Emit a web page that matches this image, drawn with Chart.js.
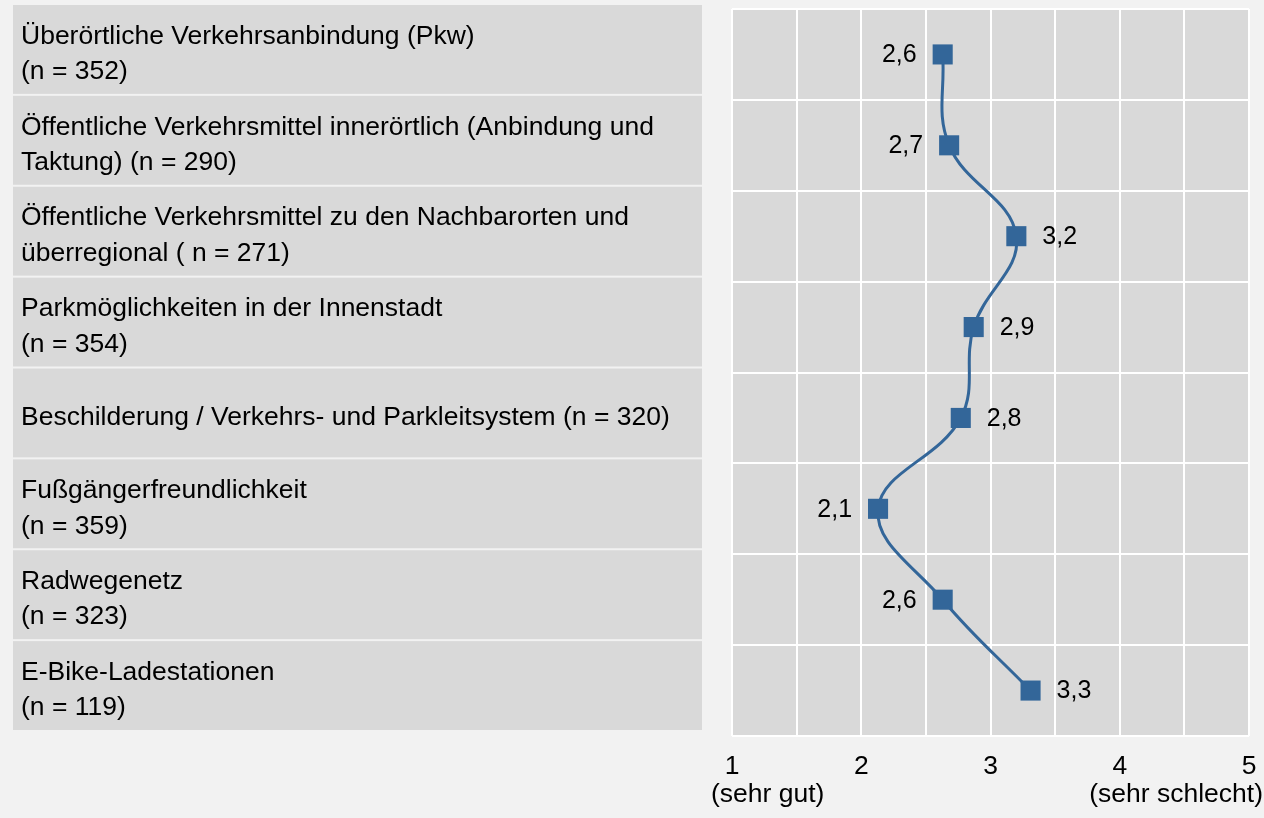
<!DOCTYPE html>
<html>
<head>
<meta charset="utf-8">
<script src="https://cdn.jsdelivr.net/npm/chart.js@4.4.1/dist/chart.umd.min.js"></script>
<style>
  html, body { margin: 0; padding: 0; background: #f2f2f2; }
  #wrap { width: 1264px; height: 818px; position: relative; }
</style>
</head>
<body>
<div id="wrap"><canvas id="c" width="1264" height="818"></canvas></div>
<script>
// categories (one entry per row, already split into lines)
const categories = [
  ['Überörtliche Verkehrsanbindung (Pkw)', '(n = 352)'],
  ['Öffentliche Verkehrsmittel innerörtlich (Anbindung und', 'Taktung) (n = 290)'],
  ['Öffentliche Verkehrsmittel zu den Nachbarorten und', 'überregional ( n = 271)'],
  ['Parkmöglichkeiten in der Innenstadt', '(n = 354)'],
  ['Beschilderung / Verkehrs- und Parkleitsystem (n = 320)'],
  ['Fußgängerfreundlichkeit', '(n = 359)'],
  ['Radwegenetz', '(n = 323)'],
  ['E-Bike-Ladestationen', '(n = 119)']
];
// mean scores (1 = sehr gut ... 5 = sehr schlecht)
const meanScores = [2.63, 2.68, 3.2, 2.87, 2.77, 2.13, 2.63, 3.31];
const xTicks = [1, 2, 3, 4, 5];
const xTickNotes = { 1: '(sehr gut)', 5: '(sehr schlecht)' };
const labelSide = ['left', 'left', 'right', 'right', 'right', 'left', 'left', 'right'];

const BLUE = '#336699';
const FONT = '"Liberation Sans", Arial, sans-serif';
const STRETCH = 1.06; // the source text runs a bit wider than Arial

// draw text slightly stretched horizontally, anchored at x
function wideText(ctx, txt, x, y, align) {
  ctx.save();
  ctx.translate(x, y);
  ctx.scale(STRETCH, 1);
  ctx.textAlign = align;
  ctx.fillText(txt, 0, 0);
  ctx.restore();
}

// backgrounds + label boxes on the left
const backdrop = {
  id: 'backdrop',
  beforeDraw(chart) {
    const { ctx, chartArea: a, scales: { y } } = chart;
    ctx.save();
    ctx.fillStyle = '#f2f2f2';
    ctx.fillRect(0, 0, chart.width, chart.height);
    ctx.fillStyle = '#d9d9d9';
    ctx.fillRect(a.left, a.top, a.right - a.left, a.bottom - a.top);

    const half = (y.getPixelForValue(1) - y.getPixelForValue(0)) / 2;
    ctx.font = '25px ' + FONT;
    ctx.textBaseline = 'alphabetic';
    categories.forEach((lines, i) => {
      const cy = y.getPixelForValue(i);
      const top = cy - half - 4, bottom = cy + half - 6;
      ctx.fillStyle = '#d9d9d9';
      ctx.fillRect(13, top, 689, bottom - top);
      const mid = (top + bottom) / 2;
      ctx.fillStyle = '#000';
      lines.forEach((t, k) => {
        wideText(ctx, t, 21, mid + 12 + (k - (lines.length - 1) / 2) * 35.5, 'left');
      });
    });
    ctx.restore();
  }
};

// value labels next to the markers
const valueLabels = {
  id: 'valueLabels',
  afterDatasetsDraw(chart) {
    const { ctx } = chart;
    const meta = chart.getDatasetMeta(0);
    ctx.save();
    ctx.font = '25px ' + FONT;
    ctx.fillStyle = '#000';
    ctx.textBaseline = 'middle';
    meta.data.forEach((pt, i) => {
      const txt = meanScores[i].toFixed(1).replace('.', ',');
      if (labelSide[i] === 'left') {
        ctx.textAlign = 'right';
        ctx.fillText(txt, pt.x - 26, pt.y + 1);
      } else {
        ctx.textAlign = 'left';
        ctx.fillText(txt, pt.x + 26, pt.y + 1);
      }
    });
    ctx.restore();
  }
};

// x tick labels with notes under 1 and 5
const xLabels = {
  id: 'xLabels',
  afterDraw(chart) {
    const { ctx, scales: { x } } = chart;
    ctx.save();
    ctx.font = '25px ' + FONT;
    ctx.fillStyle = '#000';
    ctx.textBaseline = 'middle';
    xTicks.forEach(v => {
      const px = x.getPixelForValue(v);
      wideText(ctx, String(v), px, 767, 'center');
      if (xTickNotes[v]) {
        if (v === xTicks[0]) {
          wideText(ctx, xTickNotes[v], px - 21, 795, 'left');
        } else {
          wideText(ctx, xTickNotes[v], px + 14, 795, 'right');
        }
      }
    });
    ctx.restore();
  }
};

new Chart(document.getElementById('c'), {
  type: 'line',
  data: {
    labels: categories.map(c => c.join(' ')),
    datasets: [{
      data: meanScores,
      borderColor: BLUE,
      backgroundColor: BLUE,
      borderWidth: 3,
      tension: 0.4,
      pointStyle: 'rect',
      pointRadius: 14.2,
      pointBorderWidth: 0,
      pointBackgroundColor: BLUE,
      clip: false
    }]
  },
  options: {
    indexAxis: 'y',
    responsive: false,
    animation: false,
    events: [],
    layout: { autoPadding: false, padding: { left: 732, top: 9, right: 15, bottom: 82 } },
    plugins: { legend: { display: false }, tooltip: { enabled: false } },
    scales: {
      x: {
        type: 'linear', min: 1, max: 5,
        ticks: { display: false, stepSize: 0.5 },
        grid: { color: '#ffffff', lineWidth: 2, drawTicks: false },
        border: { display: false },
        afterFit(s) { s.height = 0; }
      },
      y: {
        type: 'category', offset: true,
        ticks: { display: false },
        grid: { color: '#ffffff', lineWidth: 2, drawTicks: false, offset: true },
        border: { display: false },
        afterFit(s) { s.width = 0; }
      }
    }
  },
  plugins: [backdrop, valueLabels, xLabels]
});
</script>
</body>
</html>
